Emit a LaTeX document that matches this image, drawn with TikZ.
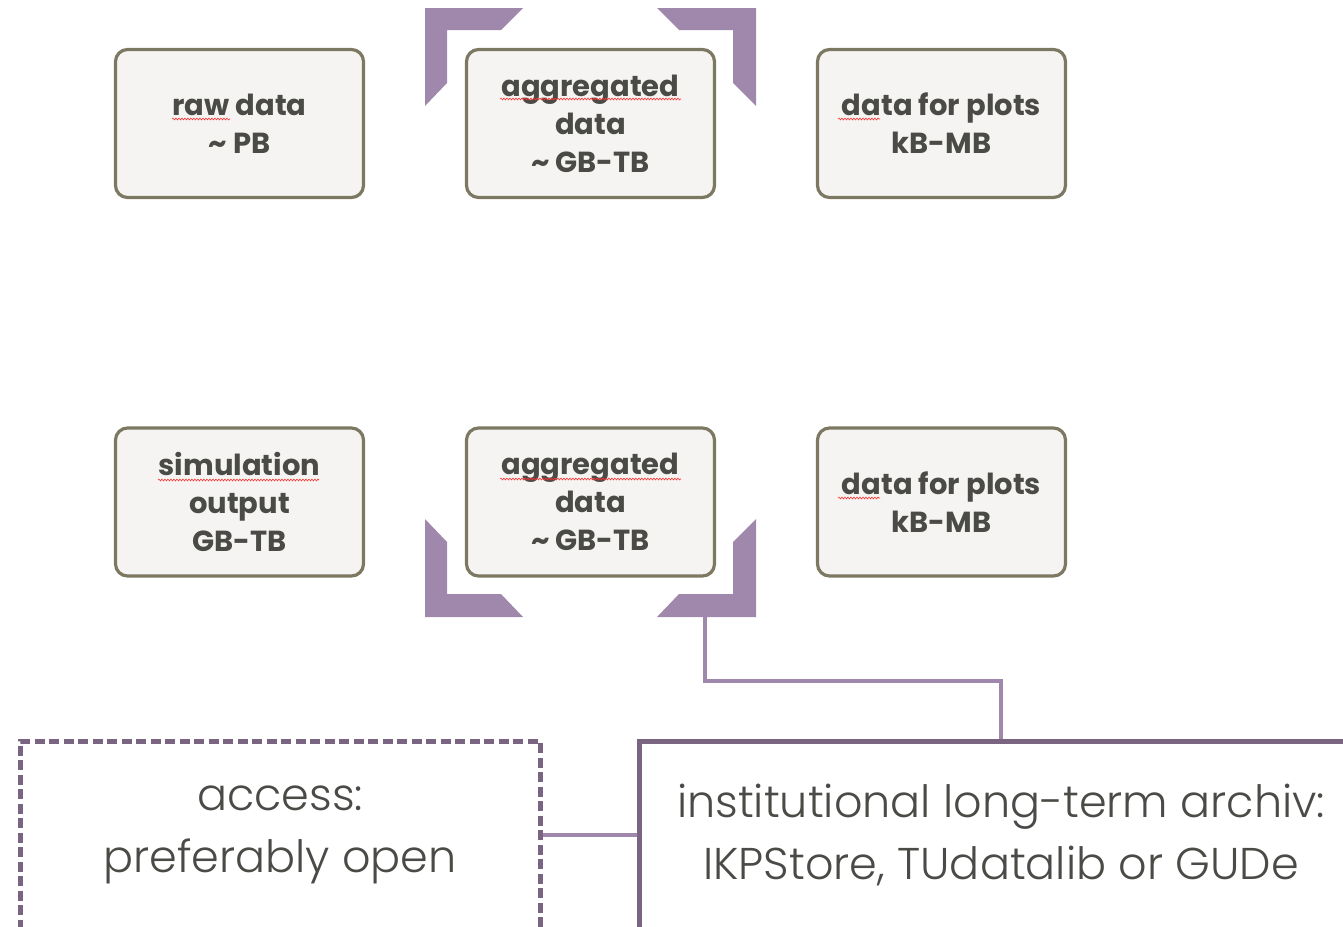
\documentclass[tikz,border=0pt]{standalone}
\usepackage{fontspec}
\setmainfont{Poppins}[BoldFont={Poppins Bold}]
\newfontfamily\lightfont{Poppins Light}
\usetikzlibrary{decorations.pathmorphing}
\definecolor{boxfill}{HTML}{F5F4F2}
\definecolor{boxline}{HTML}{7D7862}
\definecolor{txt}{HTML}{4A4A46}
\definecolor{lilac}{HTML}{A087AC}
\definecolor{plum}{HTML}{796582}
\tikzset{
  databox/.style={draw=boxline, fill=boxfill, line width=3.2pt, rounded corners=12pt,
    minimum width=248pt, minimum height=148pt, inner sep=0pt, align=center,
    text=txt, font=\fontsize{29}{38}\selectfont\bfseries},
  bigbox/.style={line width=5pt, minimum width=520pt, minimum height=188pt, inner sep=0pt,
    align=center, text=txt, font=\lightfont\fontsize{44.5}{62}\selectfont},
  conn/.style={draw=lilac, line width=3.5pt},
  brk/.style={fill=lilac},
  squig/.style={draw=red!80, line width=0.6pt, decorate,
    decoration={snake, amplitude=0.9pt, segment length=3pt}}
}
\begin{document}
\begin{tikzpicture}[x=1pt,y=-1pt]
\useasboundingbox (0,0) rectangle (1343,926);
% brackets top
\fill[brk] (425,8) -- (523,8) -- (501,30) -- (447,30) -- (447,83) -- (425,106) -- cycle;
\fill[brk] (657,8) -- (756,8) -- (756,106) -- (733,83) -- (733,30) -- (679,30) -- cycle;
% brackets bottom
\fill[brk] (425,519) -- (447,542) -- (447,594) -- (501,594) -- (523,617) -- (425,617) -- cycle;
\fill[brk] (756,519) -- (733,542) -- (733,594) -- (679,594) -- (657,617) -- (756,617) -- cycle;
% top row
\node[databox] (raw) at (239.5,123.5) {raw data\\\textasciitilde{} PB};
\node[databox] (aggT) at (590.5,123.5) {aggregated\\data\\\textasciitilde{} GB-TB};
\node[databox] (plotT) at (941.5,123.5) {data for plots\\kB-MB};
% bottom row
\node[databox] (sim) at (239.5,502) {simulation\\output\\GB-TB};
\node[databox] (aggB) at (590.5,502) {aggregated\\data\\\textasciitilde{} GB-TB};
\node[databox] (plotB) at (941.5,502) {data for plots\\kB-MB};
% spell-check squiggles
\draw[squig] (172,119) -- (230,119);
\draw[squig] (500,99) -- (681,99);
\draw[squig] (838,119) -- (880,119);
\draw[squig] (158,480) -- (319,480);
\draw[squig] (500,479) -- (681,479);
\draw[squig] (838,498) -- (880,498);
% bottom boxes
\node[bigbox, draw=plum, dash pattern=on 10pt off 4.5pt] (access) at (280,835) {access:\\preferably open};
\node[bigbox, draw=plum, minimum width=724pt] (archive) at (1001,835) {institutional long-term archiv:\\IKPStore, TUdatalib or GUDe};
% connectors
\coordinate (brkout) at (705,617);
\draw[conn] (brkout) -- ++(0,64) -| (archive.north);
\draw[conn] (access.east) -- (archive.west);
\end{tikzpicture}
\end{document}
